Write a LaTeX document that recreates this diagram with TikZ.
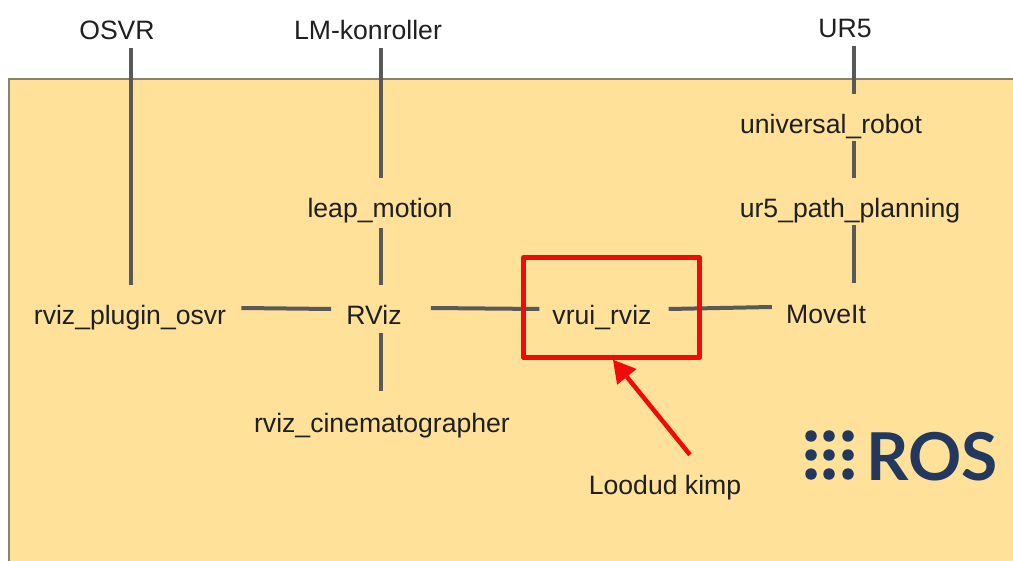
\documentclass[tikz,border=0pt]{standalone}
\usepackage{fontspec}
\setmainfont{Liberation Sans}
\newfontfamily\roslogo{Lato}[UprightFont=* Bold]
\usetikzlibrary{arrows.meta}
\definecolor{panelfill}{HTML}{FFE19A}
\definecolor{paneledge}{HTML}{8A8270}
\definecolor{linkgrey}{HTML}{595959}
\definecolor{marker}{HTML}{F00A0A}
\definecolor{rosnavy}{HTML}{22385E}
\tikzset{
  lbl/.style={inner sep=0pt,anchor=base,text height=19pt,text depth=6pt,text=black!88,font=\fontsize{26.6}{30}\selectfont},
  conn/.style={draw=linkgrey,line width=4pt},
  redbox/.style={draw=marker,line width=4.5pt,line join=round,minimum width=176pt,minimum height=100pt,inner sep=0pt},
  redarrow/.style={draw=marker,fill=marker,line width=4.5pt,-{Triangle[length=22pt,width=25pt,line width=0pt]}},
  rosdot/.style={circle,fill=rosnavy,inner sep=0pt,minimum size=11.5pt}
}
\begin{document}
\begin{tikzpicture}[x=1pt,y=-1pt]
\useasboundingbox (0,0) rectangle (1013,561);
\fill[white] (0,0) rectangle (1013,561);
\path[fill=panelfill,draw=paneledge,line width=1.5pt] (1030,79) -- (9,79) -- (9,580) -- (1030,580) -- cycle;

\node[lbl] (osvr) at (117,40) {OSVR};
\node[lbl] (lm) at (368,40) {LM-konroller};
\node[lbl] (ur) at (845,38) {UR5};
\node[lbl] (urobot) at (831,134) {universal\_robot};
\node[lbl] (leap) at (380,218) {leap\_motion};
\node[lbl] (path) at (850,218) {ur5\_path\_planning};
\node[lbl] (plugin) at (130,325) {rviz\_plugin\_osvr};
\node[lbl] (rviz) at (374,325) {RViz};
\node[lbl] (vrui) at (602,325) {vrui\_rviz};
\node[lbl] (moveit) at (826,324) {MoveIt};
\node[lbl] (cine) at (382,432) {rviz\_cinematographer};
\node[lbl] (kimp) at (665,494) {Loodud kimp};

\draw[conn] ([shift={(14,2)}]osvr.south) -- ([shift={(1,-21)}]plugin.north);
\draw[conn] ([shift={(13,2)}]lm.south) -- ([shift={(1,-21)}]leap.north);
\draw[conn] ([shift={(1,4)}]leap.south) -- ([shift={(7,-21)}]rviz.north);
\draw[conn] ([shift={(9,2)}]ur.south) -- ([shift={(23,-21)}]urobot.north);
\draw[conn] ([shift={(23,1)}]urobot.south) -- ([shift={(4,-21)}]path.north);
\draw[conn] ([shift={(4,1)}]path.south) -- ([shift={(28,-22)}]moveit.north);
\draw[conn] ([shift={(15,-10.5)}]plugin.east) -- ([shift={(-15,-9.5)}]rviz.west);
\draw[conn] ([shift={(29,-10.5)}]rviz.east) -- ([shift={(-13,-9.5)}]vrui.west);
\draw[conn] ([shift={(17,-9.5)}]vrui.east) -- ([shift={(-14,-10.5)}]moveit.west);
\draw[conn] ([shift={(7,2)}]rviz.south) -- ([shift={(-1,-22)}]cine.north);

\node[redbox] (box) at (611.5,307.5) {};
\draw[redarrow] ([shift={(25,-20)}]kimp.north) -- (box.south -| 613,359);

\foreach \cx/\ci in {811/a,829/b,848/c}
  \foreach \cy/\cj in {436/a,455/b,474/c}
    \node[rosdot] (dot\ci\cj) at (\cx,\cy) {};
\node[inner sep=0pt,anchor=base west,text=rosnavy,font={\fontsize{66}{70}\roslogo}] (ros) at (866,480) {ROS};
\end{tikzpicture}
\end{document}
